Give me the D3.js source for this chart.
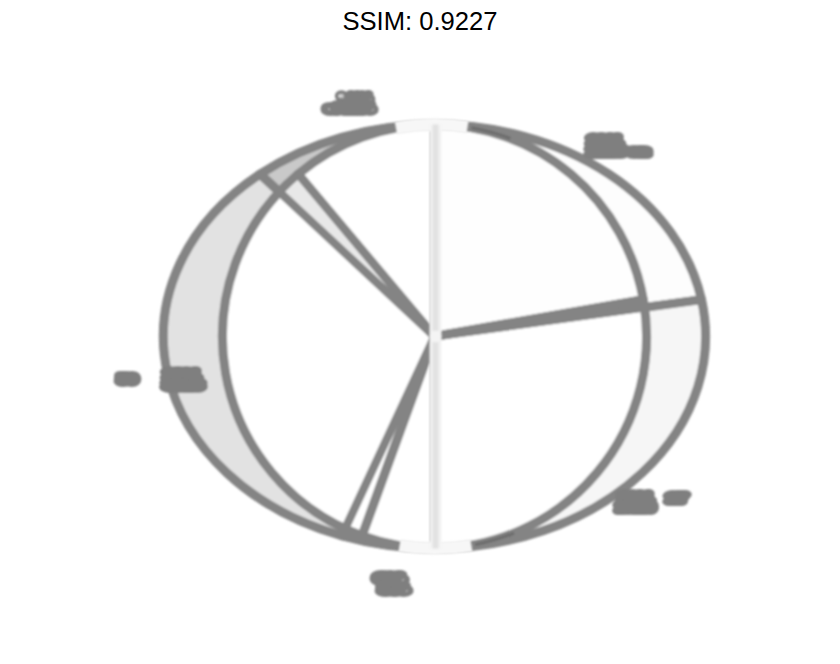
<!DOCTYPE html>
<html><head><meta charset="utf-8">
<script src="https://cdn.jsdelivr.net/npm/d3@7"></script>
<style>html,body{margin:0;background:#fff}svg{display:block}</style></head>
<body><svg id="c" width="840" height="664"></svg>
<script>
const titleText = "SSIM: 0.9227";
const sliceShares = [80, 100, 20, 120, 40];
const outerFills = ["#fdfdfd", "#f6f6f6", "#f0f0f0", "#e2e2e2", "#c9c9c9"];
const innerFills = ["#fefefe", "#ffffff", "#ffffff", "#ffffff", "#ffffff"];
const labelText = ["\u00b0 11%", "of 11%", "2011", "2110 en", "59", "2301", "3018", "2001", "27", "20110", "6%", "5%"];
const labelLeft = [335, 322, 585, 585, 115, 161, 161, 616, 664, 613, 372, 377];
const labelRight = [375, 377, 625, 652, 140, 203, 206, 656, 690, 658, 407, 411];
const labelMid = [98, 108.5, 140, 151, 379.5, 374, 385, 497, 498, 507.5, 578, 589];
const paleAngles = [[-10.5, 9], [170, 189.5]];
const darkAngles = [[10, 21], [158, 169]];

const svg = d3.select("#c");
const cx = 434.5, cy = 336.5;
const xOuter = d3.scaleLinear().domain([-1, 1]).range([cx - 271, cx + 271]);
const xInner = d3.scaleLinear().domain([-1, 1]).range([cx - 212, cx + 212]);
const y = d3.scaleLinear().domain([-1, 1]).range([cy - 212, cy + 212]);
const pie = d3.pie().sort(null)(sliceShares);
const arc = d3.arc().innerRadius(0).outerRadius(1);
const rad = d => d * Math.PI / 180;
const tf = x => `translate(${cx},${cy}) scale(${(x(1) - x(-1)) / 2},${(y(1) - y(-1)) / 2})`;
const strokeW = 9, lineGrey = "#848484";

const defs = svg.append("defs");
const blur = (id, s) => defs.append("filter").attr("id", id).attr("x", "-5%").attr("y", "-5%").attr("width", "110%").attr("height", "110%")
  .append("feGaussianBlur").attr("stdDeviation", s);
blur("b", 1); blur("bb", 1.3);
defs.append("clipPath").attr("id", "w").append("path").attr("d", arc(pie[3])).attr("transform", tf(xInner));

const g = svg.append("g").attr("filter", "url(#b)");
const draw = (x, fills) => g.append("g").attr("transform", tf(x)).selectAll("path").data(pie).join("path")
  .attr("d", arc).attr("fill", (d, i) => fills[i]).attr("stroke", lineGrey).attr("stroke-width", strokeW)
  .attr("stroke-linejoin", "round").attr("vector-effect", "non-scaling-stroke");
draw(xOuter, outerFills);
draw(xInner, innerFills);
// the part of the outer top-left slice that shows through the inner pie
g.append("g").attr("clip-path", "url(#w)").append("path")
  .attr("transform", tf(xOuter)).attr("d", arc(pie[4])).attr("fill", "#e8e8e8");
// re-stroke every slice line, both pies, over the fills
[xOuter, xInner].forEach(x => g.append("g").attr("transform", tf(x)).selectAll("path").data(pie).join("path")
  .attr("d", arc).attr("fill", "none").attr("stroke", lineGrey).attr("stroke-width", strokeW - 1).attr("vector-effect", "non-scaling-stroke"));

const paleArc = d3.arc().innerRadius(1).outerRadius(1);
const overlay = (parent, angles, stroke, w) => parent.append("g").attr("transform", tf(xInner)).selectAll("path").data(angles).join("path")
  .attr("d", d => paleArc({ startAngle: rad(d[0]), endAngle: rad(d[1]) }))
  .attr("fill", "none").attr("stroke", stroke).attr("stroke-width", w).attr("vector-effect", "non-scaling-stroke");
// darker streaks where the two rims overlap
overlay(g, darkAngles, "#6c6c6c", 3);

// pale arc stretches and vertical seam
const soft = svg.append("g").attr("filter", "url(#bb)");
overlay(soft, paleAngles, "#f7f7f7", 13);
const seam = (stroke, w) => soft.append("g").selectAll("line").data(paleAngles).join("line")
  .attr("x1", cx + 1).attr("x2", cx + 1).attr("y1", cy)
  .attr("y2", (d, i) => i ? y(1) : y(-1))
  .attr("stroke", stroke).attr("stroke-width", w);
seam("#f4f4f4", 12);
seam("#e2e2e2", 6);
soft.append("circle").attr("cx", cx + 1).attr("cy", cy).attr("r", 6).attr("fill", "#f4f4f4");

const labelFont = 10, labelStroke = 8;
g.append("g").selectAll("text").data(labelText).join("text")
  .attr("x", (d, i) => labelLeft[i] + labelStroke / 2)
  .attr("y", (d, i) => labelMid[i] + labelFont * 0.36)
  .attr("textLength", (d, i) => labelRight[i] - labelLeft[i] - labelStroke)
  .attr("lengthAdjust", "spacingAndGlyphs")
  .text(d => d)
  .attr("font-family", "'Liberation Sans', Arial, sans-serif").attr("font-size", labelFont)
  .attr("fill", "#7f7f7f").attr("stroke", "#7f7f7f").attr("stroke-width", labelStroke).attr("stroke-linejoin", "round");

svg.append("text").attr("x", 420).attr("y", 30).attr("text-anchor", "middle")
  .attr("font-family", "'Liberation Sans', Arial, sans-serif").attr("font-size", 25.6).attr("fill", "#000").text(titleText);
</script></body></html>
